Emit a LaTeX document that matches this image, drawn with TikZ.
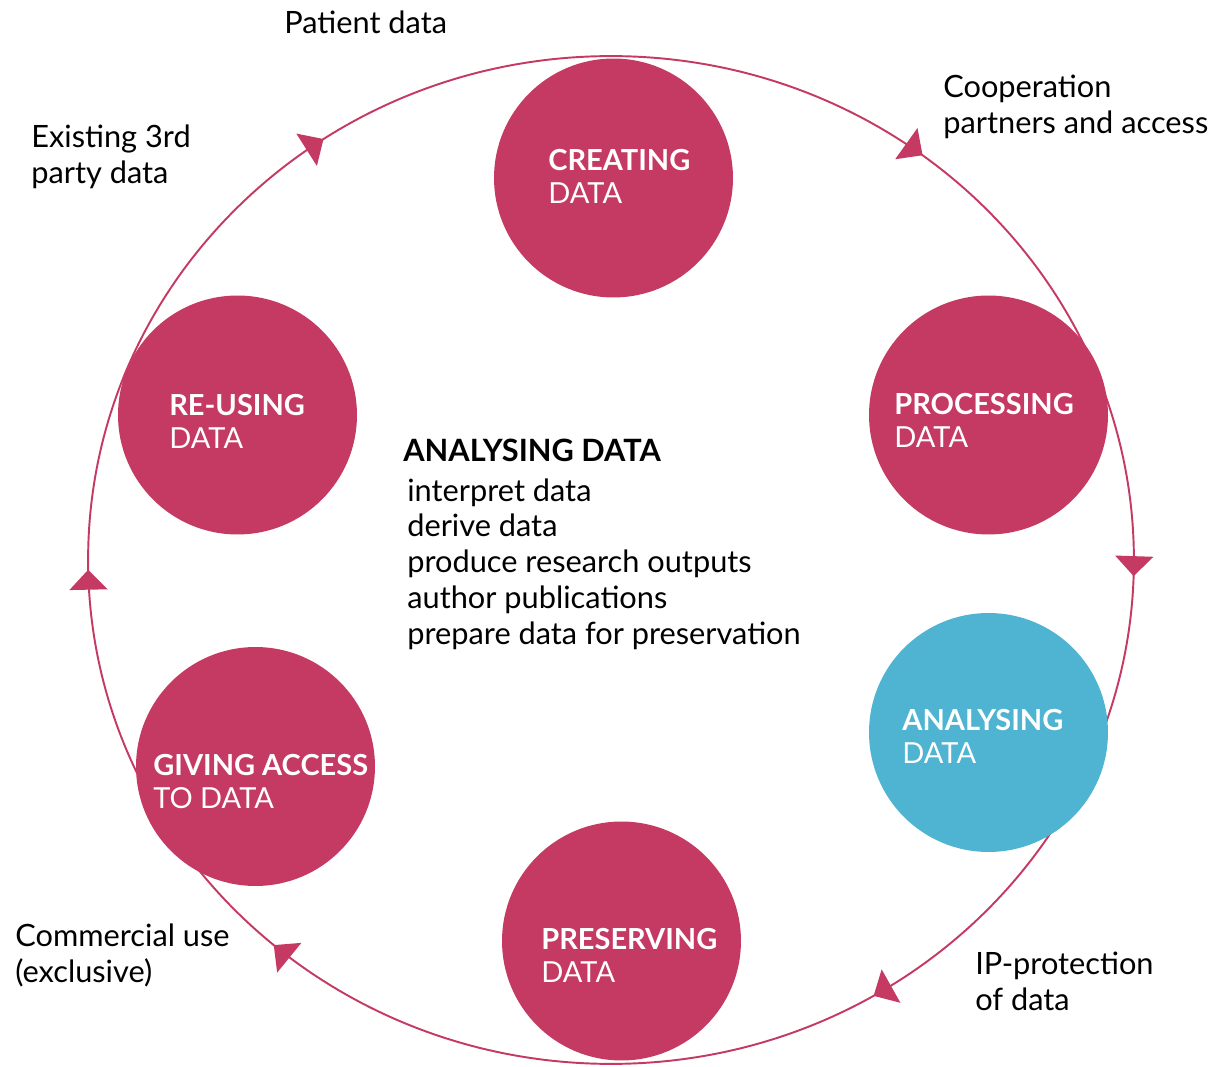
\documentclass[tikz,border=0pt]{standalone}
\usepackage{fontspec}
\setmainfont{Lato}
\usetikzlibrary{shapes,arrows.meta,decorations.markings}
\definecolor{crimson}{RGB}{196,58,99}
\definecolor{skyblue}{RGB}{79,179,210}

\begin{document}
\begin{tikzpicture}[x=0.02cm,y=-0.02cm]

	\tikzstyle{stage}=[circle,fill=crimson,inner sep=0pt,minimum size=4.78cm]
	\tikzstyle{stagetext}=[anchor=west,inner sep=0pt,align=left,text=white,font=\fontsize{16.5}{18.7}\selectfont]
	\tikzstyle{note}=[anchor=west,inner sep=0pt,align=left,font=\fontsize{17.5}{20.4}\selectfont]
	\tikzstyle{cycle}=[color=crimson,line width=1.1pt,postaction={decorate}]

	\useasboundingbox (0,0) rectangle (1215,1067);

	% the life cycle ring, clockwise from the top
	\coordinate (hub) at (611,560);
	\draw[cycle,decoration={markings,
		mark=at position 0.103 with {\arrow{Triangle[width=0.76cm,length=0.4cm]}},
		mark=at position 0.255 with {\arrow{Triangle[width=0.76cm,length=0.4cm]}},
		mark=at position 0.415 with {\arrow{Triangle[width=0.76cm,length=0.4cm]}},
		mark=at position 0.613 with {\arrow{Triangle[width=0.76cm,length=0.4cm]}},
		mark=at position 0.747 with {\arrow{Triangle[width=0.76cm,length=0.4cm]}},
		mark=at position 0.906 with {\arrow{Triangle[width=0.76cm,length=0.4cm]}}}]
		([yshift=10.08cm]hub) arc[start angle=90,end angle=-270,x radius=10.46cm,y radius=10.08cm];

	\node[stage] (create) at (613.5,178) {};
	\node[stage] (process) at (988.5,415) {};
	\node[stage,fill=skyblue] (analyse) at (988.5,732.5) {};
	\node[stage] (preserve) at (621.5,941) {};
	\node[stage] (access) at (255.5,766.5) {};
	\node[stage] (reuse) at (237.5,415) {};

	\node[stagetext] (create-txt) at (548,176.5) {\textbf{CREATING}\\DATA};
	\node[stagetext] (process-txt) at (894,420) {\textbf{PROCESSING}\\DATA};
	\node[stagetext] (analyse-txt) at (902,736.5) {\textbf{ANALYSING}\\DATA};
	\node[stagetext] (preserve-txt) at (541,955.5) {\textbf{PRESERVING}\\DATA};
	\node[stagetext] (access-txt) at (153,781.5) {\textbf{GIVING ACCESS}\\TO DATA};
	\node[stagetext] (reuse-txt) at (169,421.5) {\textbf{RE-USING}\\DATA};

	\node[note] (patient) at (284,22) {Patient data};
	\node[note] (partners) at (943,107) {Cooperation\\partners and access};
	\node[note] (thirdparty) at (31,157) {Existing 3rd\\party data};
	\node[note] (ipr) at (975,981.5) {IP-protection\\of data};
	\node[note] (commercial) at (15,955.5) {Commercial use\\(exclusive)};

	\node[note,font=\fontsize{17.5}{20}\selectfont\bfseries] (title) at (403,450) {ANALYSING DATA};
	\node[note] (tasks) at (407,564) {interpret data\\derive data\\produce research outputs\\author publications\\prepare data for preservation};

\end{tikzpicture}
\end{document}
